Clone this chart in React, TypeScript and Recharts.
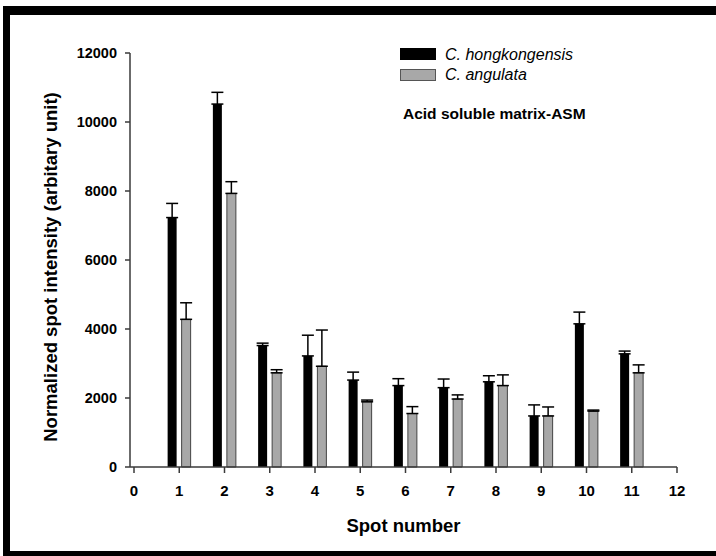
import { Bar, BarChart, ErrorBar, XAxis, YAxis } from "recharts";

const spots = [1, 2, 3, 4, 5, 6, 7, 8, 9, 10, 11];
const hongkongensis = [7230, 10520, 3520, 3220, 2520, 2360, 2300, 2470, 1480, 4150, 3280];
const hongkongensisErr = [410, 340, 70, 600, 230, 200, 250, 175, 320, 340, 80];
const angulata = [4280, 7930, 2730, 2920, 1890, 1550, 1970, 2360, 1480, 1620, 2730];
const angulataErr = [480, 340, 90, 1050, 50, 200, 120, 310, 260, 30, 230];

const xTicks = [0, 1, 2, 3, 4, 5, 6, 7, 8, 9, 10, 11, 12];
const yTicks = [0, 2000, 4000, 6000, 8000, 10000, 12000];

const seriesNames = ["C. hongkongensis", "C. angulata"];
const panelNote = "Acid soluble matrix-ASM";
const yTitle = "Normalized spot intensity (arbitary unit)";

const FONT = '"Liberation Sans", Arial, sans-serif';
const AXIS = "#3a3a3a";
const GRAY = "#a8a8a8";

const rows = spots.map((spot, i) => ({
  spot,
  hk: hongkongensis[i],
  hkErr: [0, hongkongensisErr[i]],
  ca: angulata[i],
  caErr: [0, angulataErr[i]],
}));

function Legend() {
  return (
    <g fontFamily={FONT}>
      <rect x={400} y={48} width={36} height={12} fill="#000" />
      <text x={445} y={60} fontSize={16} fontStyle="italic" fill="#000">
        {seriesNames[0]}
      </text>
      <rect x={400.5} y={69.5} width={35} height={11} fill={GRAY} stroke="#555" />
      <text x={445} y={80} fontSize={16} fontStyle="italic" fill="#000">
        {seriesNames[1]}
      </text>
      <text x={403} y={119} fontSize={15.5} fontWeight="bold" fill="#000">
        {panelNote}
      </text>
    </g>
  );
}

// rotated y-axis title, a little below the plot's middle like the original
function YTitle({ viewBox }: any) {
  const cx = 50;
  const cy = viewBox.y + viewBox.height / 2 + 7;
  return (
    <text
      x={cx}
      y={cy}
      transform={`rotate(-90 ${cx} ${cy})`}
      textAnchor="middle"
      dominantBaseline="central"
      fontFamily={FONT}
      fontSize={18.5}
      fontWeight="bold"
      fill="#000"
    >
      {yTitle}
    </text>
  );
}

export default function App() {
  return (
    <div style={{ position: "absolute", left: 0, top: 0, width: 716, height: 556, background: "#fff", overflow: "hidden" }}>
      <div
        style={{
          position: "absolute",
          left: 3,
          top: 6,
          width: 713,
          height: 550,
          boxSizing: "border-box",
          borderTop: "9px solid #000",
          borderLeft: "7px solid #000",
          borderBottom: "5px solid #000",
        }}
      />
      <div style={{ position: "absolute", left: 0, top: 0 }}>
        <BarChart
          width={716}
          height={556}
          data={rows}
          margin={{ top: 53, right: 39, bottom: 0, left: 0 }}
          barGap={5}
          barSize={9}
        >
          <XAxis
            type="number"
            dataKey="spot"
            domain={[0, 12]}
            ticks={xTicks}
            padding={{ left: 4, right: 0 }}
            height={89}
            tickSize={6}
            tickMargin={12}
            stroke={AXIS}
            strokeWidth={1.5}
            tick={{ fill: "#000", fontSize: 15, fontWeight: "bold", fontFamily: FONT }}
            label={{
              value: "Spot number",
              position: "insideBottom",
              offset: 24.5,
              style: { fill: "#000", fontSize: 18.5, fontWeight: "bold", fontFamily: FONT },
            }}
          />
          <YAxis
            domain={[0, 12000]}
            ticks={yTicks}
            width={130}
            tickSize={5}
            tickMargin={8}
            stroke={AXIS}
            strokeWidth={1.5}
            tick={{ fill: "#000", fontSize: 14.5, fontWeight: "bold", fontFamily: FONT }}
            label={{ value: yTitle, content: YTitle }}
          />
          <Bar dataKey="hk" name={seriesNames[0]} fill="#000" isAnimationActive={false}>
            <ErrorBar dataKey="hkErr" direction="y" width={6} stroke="#000" strokeWidth={1.5} />
          </Bar>
          <Bar dataKey="ca" name={seriesNames[1]} fill={GRAY} stroke="#444" strokeWidth={1} isAnimationActive={false}>
            <ErrorBar dataKey="caErr" direction="y" width={6} stroke="#000" strokeWidth={1.5} />
          </Bar>
          <Legend />
        </BarChart>
      </div>
    </div>
  );
}
